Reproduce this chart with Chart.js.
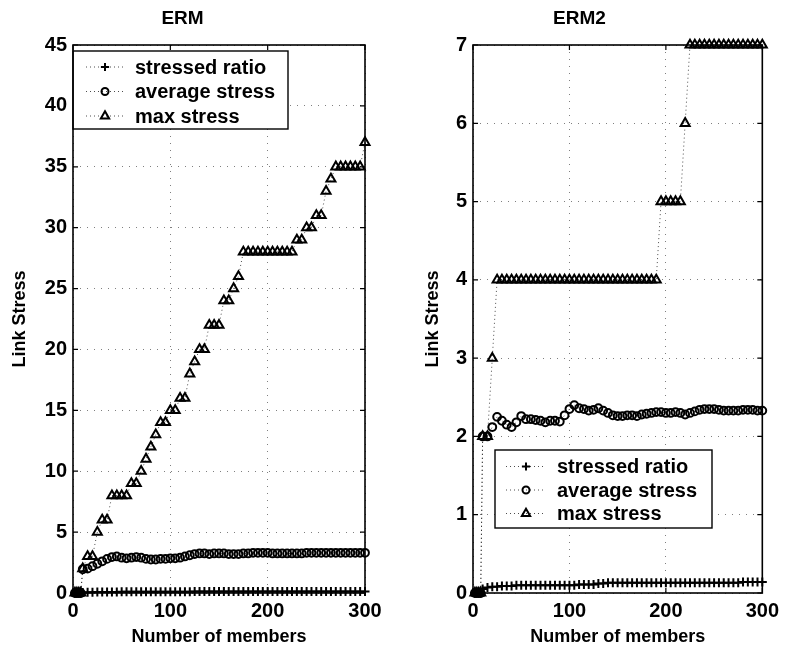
<!DOCTYPE html>
<html><head><meta charset="utf-8">
<script src="https://cdn.jsdelivr.net/npm/chart.js@4.4.1/dist/chart.umd.min.js"></script>
<style>
html,body{margin:0;padding:0;background:#fff;}
#wrap{position:relative;width:785px;height:657px;overflow:hidden;background:#fff;}
#c1{position:absolute;left:0;top:0;}
#c2{position:absolute;left:392px;top:0;}
</style></head><body>
<div id="wrap"><canvas id="c1" width="392" height="657"></canvas><canvas id="c2" width="393" height="657"></canvas></div>
<script>
// ---- data ----
const members = [
  2,4,6,8,10,15,20,25,30,35,
  40,45,50,55,60,65,70,75,80,85,
  90,95,100,105,110,115,120,125,130,135,
  140,145,150,155,160,165,170,175,180,185,
  190,195,200,205,210,215,220,225,230,235,
  240,245,250,255,260,265,270,275,280,285,
  290,295,300];
const seriesNames = ['stressed ratio','average stress','max stress'];
const chartTitles = ['ERM','ERM2'];

const ermStressedRatio = [
  0,0,0,0,0.05,0.06,0.07,0.08,0.08,0.09,
  0.09,0.09,0.1,0.1,0.1,0.1,0.1,0.1,0.1,0.1,
  0.1,0.1,0.1,0.11,0.11,0.11,0.11,0.12,0.12,0.12,
  0.12,0.12,0.12,0.12,0.12,0.12,0.12,0.12,0.12,0.12,
  0.12,0.12,0.12,0.12,0.12,0.12,0.12,0.12,0.12,0.12,
  0.13,0.13,0.13,0.13,0.13,0.13,0.13,0.13,0.13,0.13,
  0.13,0.13,0.13];
const ermAverageStress = [
  0,0,0,0,1.95,2.0,2.2,2.4,2.6,2.8,
  2.95,3.0,2.9,2.85,2.9,2.95,2.9,2.8,2.75,2.75,
  2.8,2.8,2.85,2.85,2.9,3.0,3.1,3.2,3.25,3.25,
  3.2,3.25,3.25,3.25,3.2,3.2,3.2,3.25,3.25,3.3,
  3.3,3.3,3.3,3.25,3.25,3.25,3.25,3.25,3.25,3.25,
  3.3,3.3,3.3,3.3,3.3,3.3,3.3,3.3,3.3,3.3,
  3.3,3.3,3.3];
const ermMaxStress = [
  0,0,0,0,2,3,3,5,6,6,
  8,8,8,8,9,9,10,11,12,13,
  14,14,15,15,16,16,18,19,20,20,
  22,22,22,24,24,25,26,28,28,28,
  28,28,28,28,28,28,28,28,29,29,
  30,30,31,31,33,34,35,35,35,35,
  35,35,37];

const erm2StressedRatio = [
  0,0,0,0,0.05,0.07,0.08,0.08,0.09,0.09,
  0.09,0.1,0.1,0.1,0.1,0.1,0.1,0.1,0.1,0.1,
  0.1,0.1,0.1,0.1,0.11,0.11,0.11,0.11,0.12,0.12,
  0.13,0.13,0.13,0.13,0.13,0.13,0.13,0.13,0.13,0.13,
  0.13,0.13,0.13,0.13,0.13,0.13,0.13,0.13,0.13,0.13,
  0.13,0.13,0.13,0.13,0.13,0.13,0.13,0.13,0.14,0.14,
  0.14,0.14,0.14];
const erm2AverageStress = [
  0,0,0,0,2.0,2.0,2.12,2.25,2.2,2.15,
  2.12,2.18,2.26,2.22,2.22,2.21,2.2,2.18,2.2,2.2,
  2.19,2.27,2.35,2.4,2.36,2.35,2.33,2.34,2.36,2.33,
  2.3,2.27,2.26,2.26,2.27,2.27,2.26,2.28,2.29,2.3,
  2.31,2.31,2.3,2.3,2.31,2.3,2.28,2.3,2.32,2.34,
  2.35,2.35,2.35,2.34,2.33,2.33,2.33,2.33,2.34,2.34,
  2.34,2.33,2.33];
const erm2MaxStress = [
  0,0,0,0,2,2,3,4,4,4,
  4,4,4,4,4,4,4,4,4,4,
  4,4,4,4,4,4,4,4,4,4,
  4,4,4,4,4,4,4,4,4,4,
  4,5,5,5,5,5,6,7,7,7,
  7,7,7,7,7,7,7,7,7,7,
  7,7,7];

const xTickStep = 100, xMax = 300;
const ermYMax = 45, ermYStep = 5;
const erm2YMax = 7, erm2YStep = 1;

// ---- styling ----
const FONT = '"Liberation Sans", Arial, Helvetica, sans-serif';
const markerStyles = ['cross','circle','triangle'];
const markerRadius = [4.5,3.9,5.2];
const markerLine = 2;

function makeDatasets(arrs){
  return arrs.map((arr,k)=>({
    label: seriesNames[k],
    data: members.map((m,i)=>({x:m,y:arr[i]})),
    showLine:true,
    borderColor:'rgba(0,0,0,0.7)',
    borderWidth:1,
    borderDash:[1,3],
    tension:0,
    pointStyle:markerStyles[k],
    pointRadius:markerRadius[k],
    pointBorderWidth:markerLine,
    pointBorderColor:'#000',
    pointBackgroundColor:'rgba(0,0,0,0)',
    clip:false
  }));
}

function drawMarker(ctx, style, r, x, y){
  ctx.save();
  ctx.lineWidth=markerLine; ctx.strokeStyle='#000'; ctx.fillStyle='rgba(0,0,0,0)';
  if (window.Chart && Chart.helpers && Chart.helpers.drawPoint){
    Chart.helpers.drawPoint(ctx,{pointStyle:style,radius:r,borderWidth:markerLine,rotation:0},x,y);
  } else {
    ctx.beginPath();
    if(style==='cross'){ctx.moveTo(x-r,y);ctx.lineTo(x+r,y);ctx.moveTo(x,y-r);ctx.lineTo(x,y+r);}
    else if(style==='circle'){ctx.arc(x,y,r,0,Math.PI*2);}
    else {ctx.moveTo(x,y-r);ctx.lineTo(x+r*0.866,y+r/2);ctx.lineTo(x-r*0.866,y+r/2);ctx.closePath();}
    ctx.stroke();
  }
  ctx.restore();
}

const framePlugin = {
  id:'mlframe',
  afterDraw(chart, args, opts){
    const ctx=chart.ctx, a=chart.chartArea, xs=chart.scales.x, ys=chart.scales.y;
    ctx.save();
    // inward ticks
    ctx.strokeStyle='#000'; ctx.lineWidth=1.2;
    ctx.beginPath();
    const tl=5;
    xs.ticks.forEach(t=>{const px=xs.getPixelForValue(t.value);
      ctx.moveTo(px,a.bottom);ctx.lineTo(px,a.bottom-tl);ctx.moveTo(px,a.top);ctx.lineTo(px,a.top+tl);});
    ys.ticks.forEach(t=>{const py=ys.getPixelForValue(t.value);
      ctx.moveTo(a.left,py);ctx.lineTo(a.left+tl,py);ctx.moveTo(a.right,py);ctx.lineTo(a.right-tl,py);});
    ctx.stroke();
    // legend box
    const L = opts.legend;
    const bx=a.left+L.dx, by=a.top+L.dy;
    ctx.fillStyle='#fff';
    ctx.fillRect(bx,by,L.w,L.h);
    ctx.lineWidth=1.4; ctx.strokeStyle='#000';
    ctx.strokeRect(bx,by,L.w,L.h);
    ctx.font='bold 20px '+FONT;
    ctx.textBaseline='middle'; ctx.textAlign='left';
    seriesNames.forEach((name,k)=>{
      const ry=by+L.row0+k*L.rowGap;
      ctx.save();
      ctx.strokeStyle='rgba(0,0,0,0.7)'; ctx.lineWidth=1; ctx.setLineDash([1,3]);
      ctx.beginPath(); ctx.moveTo(bx+L.line0,ry); ctx.lineTo(bx+L.line1,ry); ctx.stroke();
      ctx.restore();
      drawMarker(ctx, markerStyles[k], markerRadius[k]-0.4, bx+L.mark, ry);
      ctx.fillStyle='#000';
      ctx.fillText(name, bx+L.text, ry+1);
    });
    // frame
    ctx.lineWidth=1.6; ctx.strokeStyle='#000';
    ctx.strokeRect(a.left,a.top,a.right-a.left,a.bottom-a.top);
    ctx.restore();
  }
};

function makeChart(canvasId, title, arrs, yMax, yStep, yAxisWidth, yTitlePad, padRight, legend){
  return new Chart(document.getElementById(canvasId),{
    type:'line',
    data:{datasets:makeDatasets(arrs)},
    plugins:[framePlugin],
    options:{
      responsive:false, animation:false, devicePixelRatio:1,
      layout:{padding:{left:0,right:padRight,top:0,bottom:0}},
      plugins:{
        legend:{display:false}, tooltip:{enabled:false},
        title:{display:true,text:title,color:'#000',font:{family:FONT,size:19,weight:'bold'},padding:{top:7,bottom:15.2}},
        mlframe:{legend:legend}
      },
      scales:{
        x:{type:'linear',min:0,max:xMax,
           ticks:{stepSize:xTickStep,color:'#000',font:{family:FONT,size:20,weight:'bold'},padding:6,maxRotation:0},
           grid:{color:'rgba(0,0,0,0.5)',lineWidth:1,drawTicks:false},
           border:{display:false,dash:[1,6]},
           title:{display:true,text:'Number of members',color:'#000',font:{family:FONT,size:18,weight:'bold'},padding:{top:0,bottom:9}},
           afterFit:(s)=>{s.height=64;}},
        y:{type:'linear',min:0,max:yMax,
           ticks:{stepSize:yStep,color:'#000',font:{family:FONT,size:20,weight:'bold'},padding:6},
           grid:{color:'rgba(0,0,0,0.5)',lineWidth:1,drawTicks:false},
           border:{display:false,dash:[1,6]},
           title:{display:true,text:'Link Stress',color:'#000',font:{family:FONT,size:18,weight:'bold'},padding:{top:yTitlePad,bottom:0}},
           afterFit:(s)=>{s.width=yAxisWidth;}}
      }
    }
  });
}

makeChart('c1', chartTitles[0], [ermStressedRatio, ermAverageStress, ermMaxStress], ermYMax, ermYStep, 73, 9, 27,
  {dx:0, dy:6, w:215, h:78, row0:16, rowGap:24.5, line0:13, line1:53, mark:32, text:62});
makeChart('c2', chartTitles[1], [erm2StressedRatio, erm2AverageStress, erm2MaxStress], erm2YMax, erm2YStep, 81, 30, 18,
  {dx:22, dy:405, w:217, h:78, row0:16.5, rowGap:23.5, line0:11, line1:50, mark:31, text:62});
</script>
</body></html>
